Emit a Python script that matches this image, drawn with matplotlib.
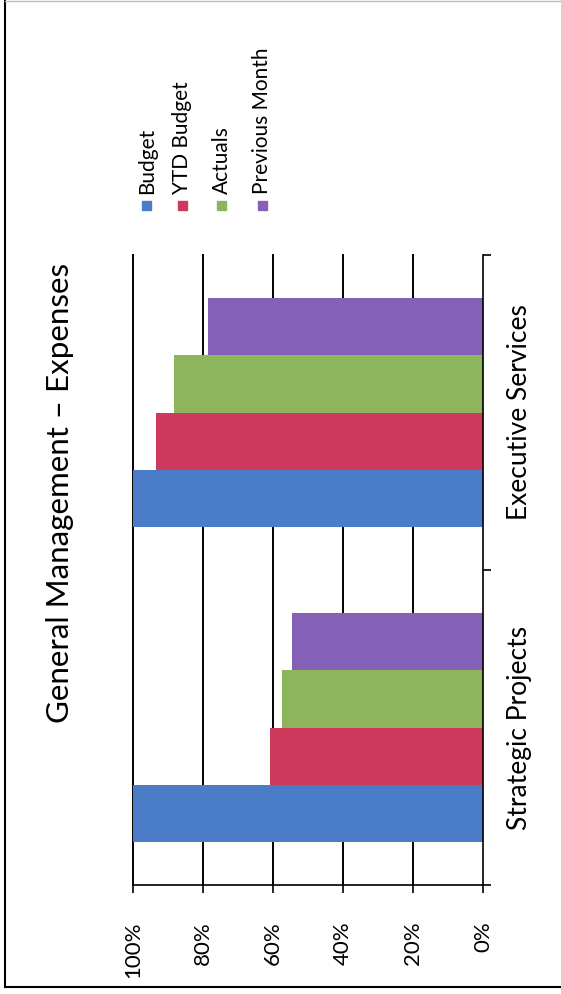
import matplotlib
matplotlib.use("Agg")
import matplotlib.pyplot as plt
from matplotlib.patches import Rectangle
from matplotlib.lines import Line2D
import numpy as np

plt.rcParams['font.family'] = ['Lato', 'DejaVu Sans']

title = "General Management \u2013 Expenses"
categories = ["Strategic Projects", "Executive Services"]
series_names = ["Budget", "YTD Budget", "Actuals", "Previous Month"]
budget = [100.0, 100.0]
ytd_budget = [61.0, 93.5]
actuals = [57.4, 88.4]
previous_month = [54.7, 78.5]
series_values = [budget, ytd_budget, actuals, previous_month]
colors = ["#4a7cc8", "#cf3a5c", "#8db55c", "#8461b6"]
value_ticks = [0, 20, 40, 60, 80, 100]
value_tick_labels = ["0%", "20%", "40%", "60%", "80%", "100%"]

W, H = 561, 994
fig = plt.figure(figsize=(W / 100, H / 100), dpi=100)

def fx(px):
    return px / W

def fy(py):
    return 1 - py / H

# plot area (rotated page layout)
x0, x1 = 133, 483
ytop, ybot = 255, 885
ax = fig.add_axes([fx(x0), fy(ybot), fx(x1) - fx(x0), fy(ytop) - fy(ybot)])
ax.set_xlim(100, 0)
ax.set_ylim(-0.5, len(categories) - 0.5)

bar_h = 1 / 5.5
offsets = [(-1.5 + i) * bar_h for i in range(4)]
ypos = np.arange(len(categories))
for vals, off, col in zip(series_values, offsets, colors):
    ax.barh(ypos + off, vals, height=bar_h, color=col, zorder=3, linewidth=0)

# gridlines
for v in value_ticks:
    if v > 0:
        ax.axvline(v, color="black", lw=1.4, zorder=1, clip_on=False)

for s in ["top", "left"]:
    ax.spines[s].set_visible(False)
ax.spines["bottom"].set_linewidth(1.2)
ax.spines["right"].set_linewidth(1.2)
ax.spines["bottom"].set_zorder(4)
ax.spines["right"].set_zorder(4)

ax.set_xticks(value_ticks)
ax.set_xticklabels(value_tick_labels, rotation=90, fontsize=16, va="top", ha="center")
ax.tick_params(axis="x", direction="out", length=6, width=1.2, pad=20)

ax.yaxis.tick_right()
ax.set_yticks(ypos)
ax.set_yticklabels(categories, rotation=90, fontsize=19, va="center", ha="left")
ax.tick_params(axis="y", which="major", length=0, pad=17)
ax.set_yticks(np.arange(-0.5, len(categories)), minor=True)
ax.tick_params(axis="y", which="minor", direction="out", length=6, width=1.2)
ax.tick_params(axis="y", which="minor", right=True, left=False)

# title
fig.text(fx(60), fy(493), title, rotation=90, fontsize=22.5, ha="center", va="center")

# legend (manual, rotated)
leg_x = [146.5, 182, 221, 262]
for name, col, lx in zip(series_names, colors, leg_x):
    fig.patches.append(Rectangle((fx(lx - 4.5), fy(209.5)), fx(9), fy(200.5) - fy(209.5),
                                 transform=fig.transFigure, color=col, figure=fig))
    fig.text(fx(lx + 0.5), fy(194), name, rotation=90, fontsize=15, ha="center", va="bottom")

# page border lines
fig.add_artist(Line2D([fx(5), fx(5)], [fy(1), fy(987)], transform=fig.transFigure, color="black", lw=1.5))
fig.add_artist(Line2D([fx(5), fx(561)], [fy(987), fy(987)], transform=fig.transFigure, color="black", lw=1.5))
fig.add_artist(Line2D([fx(5), fx(561)], [fy(1), fy(1)], transform=fig.transFigure, color="#bbbbbb", lw=1.0))

fig.savefig("out.png", dpi=100, facecolor="white")
